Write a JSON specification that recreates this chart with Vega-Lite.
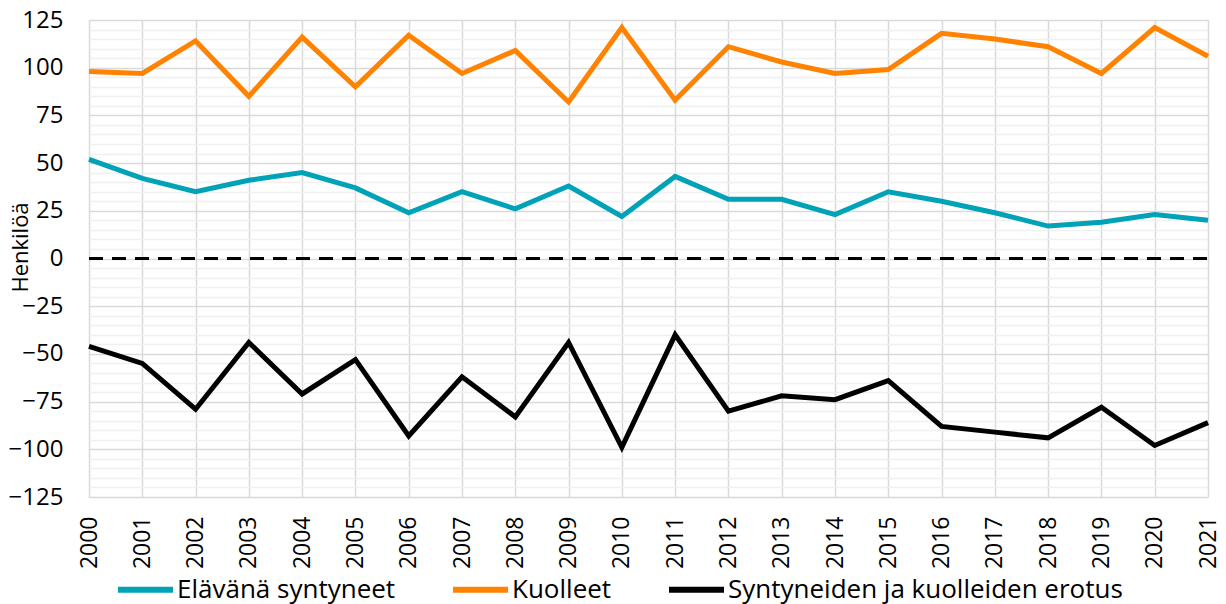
{
  "$schema": "https://vega.github.io/schema/vega-lite/v6.json",
  "width": 1119,
  "height": 477,
  "autosize": {"type": "none"},
  "padding": {"left": 89, "top": 20, "right": 18, "bottom": 107},
  "background": "white",
  "config": {
    "font": "Open Sans",
    "view": {"stroke": null},
    "axis": {"labelFont": "Open Sans", "titleFont": "Open Sans", "labelColor": "#000", "titleColor": "#000"}
  },
  "data": {
    "values": [
      {"vuosi": 2000, "sarja": "Elävänä syntyneet", "arvo": 52},
      {"vuosi": 2001, "sarja": "Elävänä syntyneet", "arvo": 42},
      {"vuosi": 2002, "sarja": "Elävänä syntyneet", "arvo": 35},
      {"vuosi": 2003, "sarja": "Elävänä syntyneet", "arvo": 41},
      {"vuosi": 2004, "sarja": "Elävänä syntyneet", "arvo": 45},
      {"vuosi": 2005, "sarja": "Elävänä syntyneet", "arvo": 37},
      {"vuosi": 2006, "sarja": "Elävänä syntyneet", "arvo": 24},
      {"vuosi": 2007, "sarja": "Elävänä syntyneet", "arvo": 35},
      {"vuosi": 2008, "sarja": "Elävänä syntyneet", "arvo": 26},
      {"vuosi": 2009, "sarja": "Elävänä syntyneet", "arvo": 38},
      {"vuosi": 2010, "sarja": "Elävänä syntyneet", "arvo": 22},
      {"vuosi": 2011, "sarja": "Elävänä syntyneet", "arvo": 43},
      {"vuosi": 2012, "sarja": "Elävänä syntyneet", "arvo": 31},
      {"vuosi": 2013, "sarja": "Elävänä syntyneet", "arvo": 31},
      {"vuosi": 2014, "sarja": "Elävänä syntyneet", "arvo": 23},
      {"vuosi": 2015, "sarja": "Elävänä syntyneet", "arvo": 35},
      {"vuosi": 2016, "sarja": "Elävänä syntyneet", "arvo": 30},
      {"vuosi": 2017, "sarja": "Elävänä syntyneet", "arvo": 24},
      {"vuosi": 2018, "sarja": "Elävänä syntyneet", "arvo": 17},
      {"vuosi": 2019, "sarja": "Elävänä syntyneet", "arvo": 19},
      {"vuosi": 2020, "sarja": "Elävänä syntyneet", "arvo": 23},
      {"vuosi": 2021, "sarja": "Elävänä syntyneet", "arvo": 20},
      {"vuosi": 2000, "sarja": "Kuolleet", "arvo": 98},
      {"vuosi": 2001, "sarja": "Kuolleet", "arvo": 97},
      {"vuosi": 2002, "sarja": "Kuolleet", "arvo": 114},
      {"vuosi": 2003, "sarja": "Kuolleet", "arvo": 85},
      {"vuosi": 2004, "sarja": "Kuolleet", "arvo": 116},
      {"vuosi": 2005, "sarja": "Kuolleet", "arvo": 90},
      {"vuosi": 2006, "sarja": "Kuolleet", "arvo": 117},
      {"vuosi": 2007, "sarja": "Kuolleet", "arvo": 97},
      {"vuosi": 2008, "sarja": "Kuolleet", "arvo": 109},
      {"vuosi": 2009, "sarja": "Kuolleet", "arvo": 82},
      {"vuosi": 2010, "sarja": "Kuolleet", "arvo": 121},
      {"vuosi": 2011, "sarja": "Kuolleet", "arvo": 83},
      {"vuosi": 2012, "sarja": "Kuolleet", "arvo": 111},
      {"vuosi": 2013, "sarja": "Kuolleet", "arvo": 103},
      {"vuosi": 2014, "sarja": "Kuolleet", "arvo": 97},
      {"vuosi": 2015, "sarja": "Kuolleet", "arvo": 99},
      {"vuosi": 2016, "sarja": "Kuolleet", "arvo": 118},
      {"vuosi": 2017, "sarja": "Kuolleet", "arvo": 115},
      {"vuosi": 2018, "sarja": "Kuolleet", "arvo": 111},
      {"vuosi": 2019, "sarja": "Kuolleet", "arvo": 97},
      {"vuosi": 2020, "sarja": "Kuolleet", "arvo": 121},
      {"vuosi": 2021, "sarja": "Kuolleet", "arvo": 106},
      {"vuosi": 2000, "sarja": "Syntyneiden ja kuolleiden erotus", "arvo": -46},
      {"vuosi": 2001, "sarja": "Syntyneiden ja kuolleiden erotus", "arvo": -55},
      {"vuosi": 2002, "sarja": "Syntyneiden ja kuolleiden erotus", "arvo": -79},
      {"vuosi": 2003, "sarja": "Syntyneiden ja kuolleiden erotus", "arvo": -44},
      {"vuosi": 2004, "sarja": "Syntyneiden ja kuolleiden erotus", "arvo": -71},
      {"vuosi": 2005, "sarja": "Syntyneiden ja kuolleiden erotus", "arvo": -53},
      {"vuosi": 2006, "sarja": "Syntyneiden ja kuolleiden erotus", "arvo": -93},
      {"vuosi": 2007, "sarja": "Syntyneiden ja kuolleiden erotus", "arvo": -62},
      {"vuosi": 2008, "sarja": "Syntyneiden ja kuolleiden erotus", "arvo": -83},
      {"vuosi": 2009, "sarja": "Syntyneiden ja kuolleiden erotus", "arvo": -44},
      {"vuosi": 2010, "sarja": "Syntyneiden ja kuolleiden erotus", "arvo": -99},
      {"vuosi": 2011, "sarja": "Syntyneiden ja kuolleiden erotus", "arvo": -40},
      {"vuosi": 2012, "sarja": "Syntyneiden ja kuolleiden erotus", "arvo": -80},
      {"vuosi": 2013, "sarja": "Syntyneiden ja kuolleiden erotus", "arvo": -72},
      {"vuosi": 2014, "sarja": "Syntyneiden ja kuolleiden erotus", "arvo": -74},
      {"vuosi": 2015, "sarja": "Syntyneiden ja kuolleiden erotus", "arvo": -64},
      {"vuosi": 2016, "sarja": "Syntyneiden ja kuolleiden erotus", "arvo": -88},
      {"vuosi": 2017, "sarja": "Syntyneiden ja kuolleiden erotus", "arvo": -91},
      {"vuosi": 2018, "sarja": "Syntyneiden ja kuolleiden erotus", "arvo": -94},
      {"vuosi": 2019, "sarja": "Syntyneiden ja kuolleiden erotus", "arvo": -78},
      {"vuosi": 2020, "sarja": "Syntyneiden ja kuolleiden erotus", "arvo": -98},
      {"vuosi": 2021, "sarja": "Syntyneiden ja kuolleiden erotus", "arvo": -86}
    ]
  },
  "encoding": {
    "x": {
      "field": "vuosi",
      "type": "quantitative",
      "scale": {"domain": [2000, 2021], "nice": false, "zero": false},
      "axis": {
        "title": null,
        "values": [2000, 2001, 2002, 2003, 2004, 2005, 2006, 2007, 2008, 2009, 2010, 2011, 2012, 2013, 2014, 2015, 2016, 2017, 2018, 2019, 2020, 2021],
        "format": "d",
        "labelAngle": -90,
        "labelFontSize": 23,
        "labelPadding": 19,
        "ticks": false,
        "domain": false,
        "grid": true,
        "gridColor": "#d9d9d9",
        "gridWidth": 1.5,
        "labelOverlap": false,
        "labelFlush": false
      }
    },
    "y": {
      "field": "arvo",
      "type": "quantitative",
      "scale": {"domain": [-125, 125], "nice": false},
      "axis": {
        "title": "Henkilöä",
        "titleFontSize": 22,
        "titleFontWeight": "normal",
        "titleX": -62,
        "titleY": 227,
        "titleAngle": -90,
        "titleAlign": "center",
        "titleBaseline": "alphabetic",
        "values": [-125, -120, -115, -110, -105, -100, -95, -90, -85, -80, -75, -70, -65, -60, -55, -50, -45, -40, -35, -30, -25, -20, -15, -10, -5, 0, 5, 10, 15, 20, 25, 30, 35, 40, 45, 50, 55, 60, 65, 70, 75, 80, 85, 90, 95, 100, 105, 110, 115, 120, 125],
        "labelExpr": "datum.value % 25 === 0 ? datum.label : ''",
        "labelFontSize": 24,
        "labelPadding": 26,
        "ticks": false,
        "domain": false,
        "grid": true,
        "gridColor": {"condition": {"test": "datum.value % 25 === 0", "value": "#d9d9d9"}, "value": "#f0f0f0"},
        "gridWidth": 1.5,
        "labelOverlap": false,
        "labelFlush": false
      }
    }
  },
  "layer": [
    {
      "mark": {"type": "rule", "color": "#000", "strokeWidth": 2.5, "strokeDash": [14, 9]},
      "encoding": {"y": {"datum": 0}, "x": {"datum": 2000}, "x2": {"datum": 2021}}
    },
    {
      "mark": {"type": "line", "strokeWidth": 5, "strokeJoin": "miter", "strokeCap": "butt"},
      "encoding": {
        "color": {
          "field": "sarja",
          "type": "nominal",
          "scale": {
            "domain": ["Elävänä syntyneet", "Kuolleet", "Syntyneiden ja kuolleiden erotus"],
            "range": ["#00A2B8", "#FF8300", "#000000"]
          },
          "legend": {
            "title": null,
            "orient": "none",
            "direction": "horizontal",
            "legendX": 26,
            "legendY": 539,
            "symbolType": "stroke",
            "symbolSize": 3025,
            "symbolStrokeWidth": 6,
            "labelFontSize": 26,
            "labelFont": "Open Sans",
            "labelColor": "#000",
            "labelOffset": 1,
            "columnPadding": 45,
            "labelLimit": 700
          }
        }
      }
    }
  ]
}
